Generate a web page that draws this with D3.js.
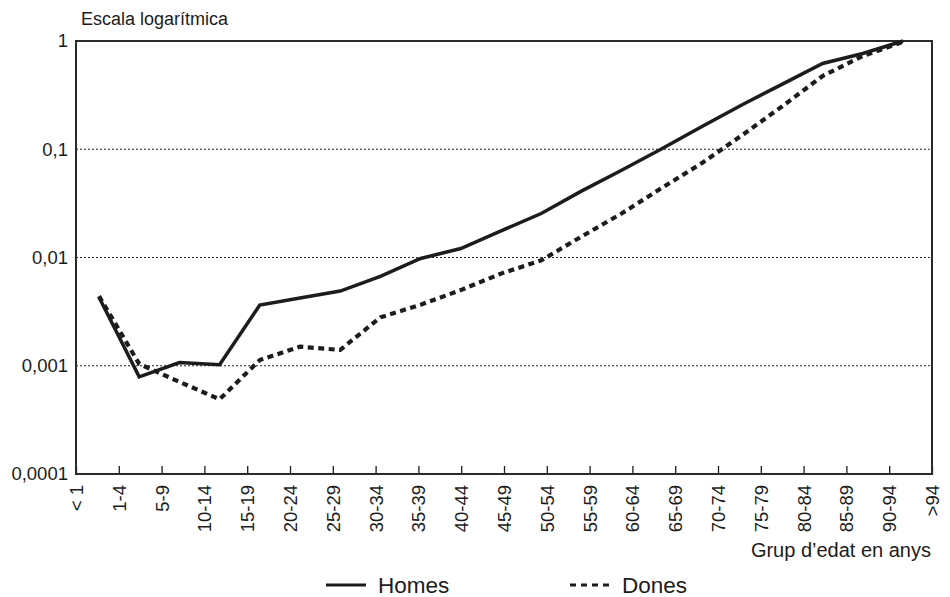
<!DOCTYPE html>
<html>
<head>
<meta charset="utf-8">
<script src="https://cdn.jsdelivr.net/npm/d3@7/dist/d3.min.js"></script>
<style>
  html, body { margin: 0; padding: 0; background: #fff; }
  svg { display: block; font-family: "Liberation Sans", Arial, sans-serif; }
</style>
</head>
<body>
<svg id="chart" width="950" height="597"></svg>
<script>
// Age groups (x axis categories)
const categories = ["< 1", "1-4", "5-9", "10-14", "15-19", "20-24", "25-29", "30-34", "35-39",
  "40-44", "45-49", "50-54", "55-59", "60-64", "65-69", "70-74", "75-79", "80-84",
  "85-89", "90-94", ">94"];

// Relative mortality by age group, men
const homes = [0.0043, 0.00079, 0.00107, 0.00102, 0.00364, 0.00423, 0.0049, 0.0067, 0.0098,
  0.0121, 0.0176, 0.0255, 0.041, 0.064, 0.101, 0.162, 0.258, 0.40, 0.62, 0.767, 1.0];

// Relative mortality by age group, women
const dones = [0.0044, 0.00104, 0.00071, 0.00049, 0.00113, 0.0015, 0.0014, 0.0028, 0.00366,
  0.005, 0.0071, 0.0094, 0.0156, 0.0255, 0.0439, 0.0746, 0.135, 0.25, 0.475, 0.727, 0.98];

// Y ticks and their labels
const yTicks = [1, 0.1, 0.01, 0.001, 0.0001];
const yTickLabels = ["1", "0,1", "0,01", "0,001", "0,0001"];

const series = [
  { name: "Homes", values: homes, dash: null, width: 3.5 },
  { name: "Dones", values: dones, dash: "6,4.5", width: 4.2 }
];

const svg = d3.select("#chart");
const plot = { left: 76, right: 932, top: 41, bottom: 474 };
const ink = "#1c1c1c";

const y = d3.scaleLog().domain([1e-4, 1]).range([plot.bottom, plot.top]);
// Category ticks span the whole frame; the data points sit on an inset band
const xAxis = d3.scalePoint().domain(categories).range([plot.left, plot.right]);
const xData = d3.scalePoint().domain(categories).range([plot.left + 23, plot.right - 29]);

// Dotted gridlines at the inner decades
svg.append("g")
  .selectAll("line")
  .data(yTicks.filter(t => t < 1 && t > 1e-4))
  .join("line")
  .attr("x1", plot.left).attr("x2", plot.right)
  .attr("y1", d => y(d)).attr("y2", d => y(d))
  .attr("stroke", "#262626")
  .attr("stroke-width", 1.2)
  .attr("stroke-dasharray", "2,2");

// Bottom axis with inward ticks and rotated labels
const gx = svg.append("g")
  .attr("transform", `translate(0,${plot.bottom})`)
  .call(d3.axisBottom(xAxis).tickSize(-8).tickSizeOuter(0).tickPadding(0));
gx.select(".domain").remove();
gx.selectAll(".tick line").attr("stroke", ink).attr("stroke-width", 1.3);
gx.selectAll(".tick text")
  .attr("fill", ink)
  .style("font-size", "18.5px")
  .attr("text-anchor", "end")
  .attr("transform", "translate(0,11) rotate(-90)")
  .attr("x", 0).attr("y", 0)
  .attr("dy", "0.35em");

// Left axis labels
const gy = svg.append("g")
  .attr("transform", `translate(${plot.left},0)`)
  .call(d3.axisLeft(y).tickValues(yTicks).tickFormat((d, i) => yTickLabels[i]).tickSize(0).tickPadding(8));
gy.select(".domain").remove();
gy.selectAll(".tick text").attr("fill", ink).style("font-size", "18.5px");

// Frame around the plot area
svg.append("rect")
  .attr("x", plot.left).attr("y", plot.top)
  .attr("width", plot.right - plot.left).attr("height", plot.bottom - plot.top)
  .attr("fill", "none")
  .attr("stroke", "#2a2a2a")
  .attr("stroke-width", 2);

// Series lines
const line = d3.line()
  .x((d, i) => xData(categories[i]))
  .y(d => y(d));

svg.append("g")
  .selectAll("path")
  .data(series)
  .join("path")
  .attr("d", d => line(d.values))
  .attr("fill", "none")
  .attr("stroke", ink)
  .attr("stroke-width", d => d.width)
  .attr("stroke-linejoin", "miter")
  .attr("stroke-dasharray", d => d.dash);

// Axis titles
svg.append("text")
  .attr("x", 81).attr("y", 25)
  .attr("fill", ink)
  .style("font-size", "18px")
  .text("Escala logarítmica");

svg.append("text")
  .attr("x", plot.right - 1).attr("y", 557)
  .attr("text-anchor", "end")
  .attr("fill", ink)
  .style("font-size", "20px")
  .text("Grup d’edat en anys");

// Legend
const legendItems = [
  { s: series[0], x: 326 },
  { s: series[1], x: 570 }
];
const lg = svg.append("g").selectAll("g").data(legendItems).join("g")
  .attr("transform", d => `translate(${d.x},585)`);
lg.append("line")
  .attr("x1", 0).attr("x2", 40).attr("y1", 0).attr("y2", 0)
  .attr("stroke", ink)
  .attr("stroke-width", 3)
  .attr("stroke-dasharray", d => d.s.dash ? "6,5" : null);
lg.append("text")
  .attr("x", 52).attr("y", 8)
  .attr("fill", ink)
  .style("font-size", "22.5px")
  .text(d => d.s.name);
</script>
</body>
</html>
